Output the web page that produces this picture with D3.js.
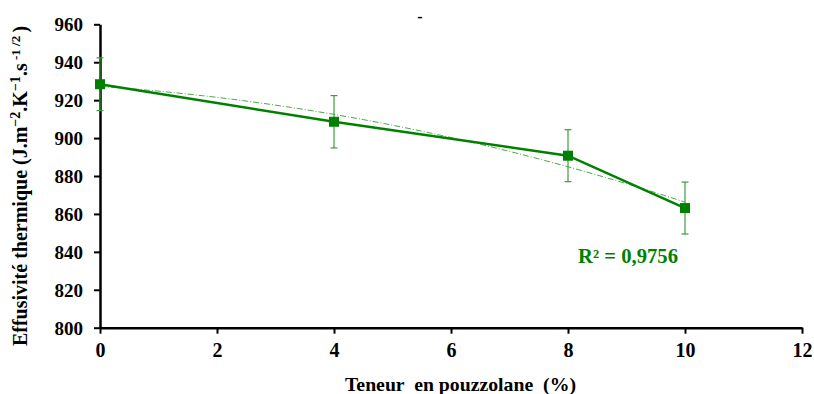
<!DOCTYPE html>
<html><head><meta charset="utf-8">
<script src="https://cdn.jsdelivr.net/npm/d3@7"></script>
<style>body{margin:0;background:#fff}svg{display:block}</style>
</head><body><svg id="c" width="814" height="394"></svg>
<script>
const xValues = [0, 4, 8, 10];
const yValues = [928.4, 908.6, 890.7, 863.1];
const yErrors = [13.9, 13.8, 13.7, 13.7];
const xTicks = [0, 2, 4, 6, 8, 10, 12];
const yTicks = [800, 820, 840, 860, 880, 900, 920, 940, 960];
const r2Label = "R² = 0,9756";

const FONT = "'Liberation Serif', 'Times New Roman', serif";
const svg = d3.select("#c");
const x = d3.scaleLinear().domain([0, 12]).range([100, 802]);
const y = d3.scaleLinear().domain([800, 960]).range([327.7, 24.3]);
const green = "#008000", errGreen = "#3a9e3a";

// axes
const xa = svg.append("g").attr("transform", `translate(0,${y(800)})`)
  .call(d3.axisBottom(x).tickValues(xTicks).tickSize(6).tickSizeOuter(0).tickPadding(9));
const ya = svg.append("g").attr("transform", `translate(${x(0)},0)`)
  .call(d3.axisLeft(y).tickValues(yTicks).tickSize(6).tickSizeOuter(0).tickPadding(11));
[xa, ya].forEach(g => {
  g.attr("font-family", null).attr("font-size", null);
  g.select(".domain").attr("stroke", "#000").attr("stroke-width", 2.5);
  g.selectAll(".tick line").attr("stroke", "#000").attr("stroke-width", 2);
  g.selectAll(".tick text").style("font-size", "20px").style("font-weight", "bold")
    .style("font-family", FONT).attr("fill", "#000");
});
ya.selectAll(".tick text").style("font-size", "19px").attr("dy", "0.34em");

// polynomial (order 2) trend line computed from data by least squares
function polyfit(xs, ys) {
  const S = k => d3.sum(xs, v => Math.pow(v, k));
  const T = k => d3.sum(xs, (v, i) => Math.pow(v, k) * ys[i]);
  const M = [[S(0), S(1), S(2), T(0)], [S(1), S(2), S(3), T(1)], [S(2), S(3), S(4), T(2)]];
  for (let i = 0; i < 3; i++) {
    for (let j = i + 1; j < 3; j++) {
      const f = M[j][i] / M[i][i];
      for (let k = i; k < 4; k++) M[j][k] -= f * M[i][k];
    }
  }
  const c = [0, 0, 0];
  for (let i = 2; i >= 0; i--) {
    let s = M[i][3];
    for (let k = i + 1; k < 3; k++) s -= M[i][k] * c[k];
    c[i] = s / M[i][i];
  }
  return c;
}
const coef = polyfit(xValues, yValues);
const trend = d3.range(0, 10.01, 0.25).map(v => [v, coef[0] + coef[1] * v + coef[2] * v * v]);
svg.append("path").datum(trend)
  .attr("d", d3.line().x(d => x(d[0])).y(d => y(d[1])))
  .attr("fill", "none").attr("stroke", "#4aa84a").attr("stroke-width", 1)
  .attr("stroke-dasharray", "6,2,1,2");

// error bars
const pts = xValues.map((v, i) => ({x: v, y: yValues[i], e: yErrors[i]}));
const eb = svg.append("g").attr("stroke", errGreen).attr("stroke-width", 1.2);
eb.selectAll(".v").data(pts).join("line")
  .attr("x1", d => x(d.x)).attr("x2", d => x(d.x))
  .attr("y1", d => y(d.y + d.e)).attr("y2", d => y(d.y - d.e));
eb.selectAll(".t").data(pts).join("line")
  .attr("x1", d => x(d.x) - 3.5).attr("x2", d => x(d.x) + 3.5)
  .attr("y1", d => y(d.y + d.e)).attr("y2", d => y(d.y + d.e));
eb.selectAll(".b").data(pts).join("line")
  .attr("x1", d => x(d.x) - 3.5).attr("x2", d => x(d.x) + 3.5)
  .attr("y1", d => y(d.y - d.e)).attr("y2", d => y(d.y - d.e));

// data line
svg.append("path").datum(pts)
  .attr("d", d3.line().x(d => x(d.x)).y(d => y(d.y)))
  .attr("fill", "none").attr("stroke", green).attr("stroke-width", 2.5);

// markers
svg.selectAll(".m").data(pts).join("rect")
  .attr("x", d => x(d.x) - 5).attr("y", d => y(d.y) - 5)
  .attr("width", 10).attr("height", 10).attr("fill", green);

function txt(sel) {
  return sel.style("font-family", FONT).style("font-weight", "bold");
}

// R² label
txt(svg.append("text")).attr("x", 578).attr("y", 263)
  .attr("textLength", 100).attr("lengthAdjust", "spacingAndGlyphs")
  .style("font-size", "20px").attr("fill", green).text(r2Label);

// axis titles
txt(svg.append("text")).attr("x", 345).attr("y", 391)
  .attr("textLength", 231).attr("lengthAdjust", "spacingAndGlyphs")
  .style("font-size", "19px").attr("fill", "#000").text("Teneur  en pouzzolane  (%)")
  .style("white-space", "pre");

const yt = txt(svg.append("text")).attr("transform", "translate(27,186) rotate(-90)")
  .attr("text-anchor", "middle").style("font-size", "20px").attr("fill", "#000");
yt.append("tspan").text("Effusivité thermique (J.m");
yt.append("tspan").attr("dy", -7).style("font-size", "14px").text("−2");
yt.append("tspan").attr("dy", 7).text(".K");
yt.append("tspan").attr("dy", -7).style("font-size", "14px").text("−1");
yt.append("tspan").attr("dy", 7).text(".s");
yt.append("tspan").attr("dy", -7).style("font-size", "13px").style("white-space", "pre").text(" -1 /2 ");
yt.append("tspan").attr("dy", 7).text(")");

// stray mark at top (title remnant)
txt(svg.append("text")).attr("x", 420).attr("y", 22).attr("text-anchor", "middle")
  .style("font-size", "16px").attr("fill", "#000").text("-");
</script></body></html>
